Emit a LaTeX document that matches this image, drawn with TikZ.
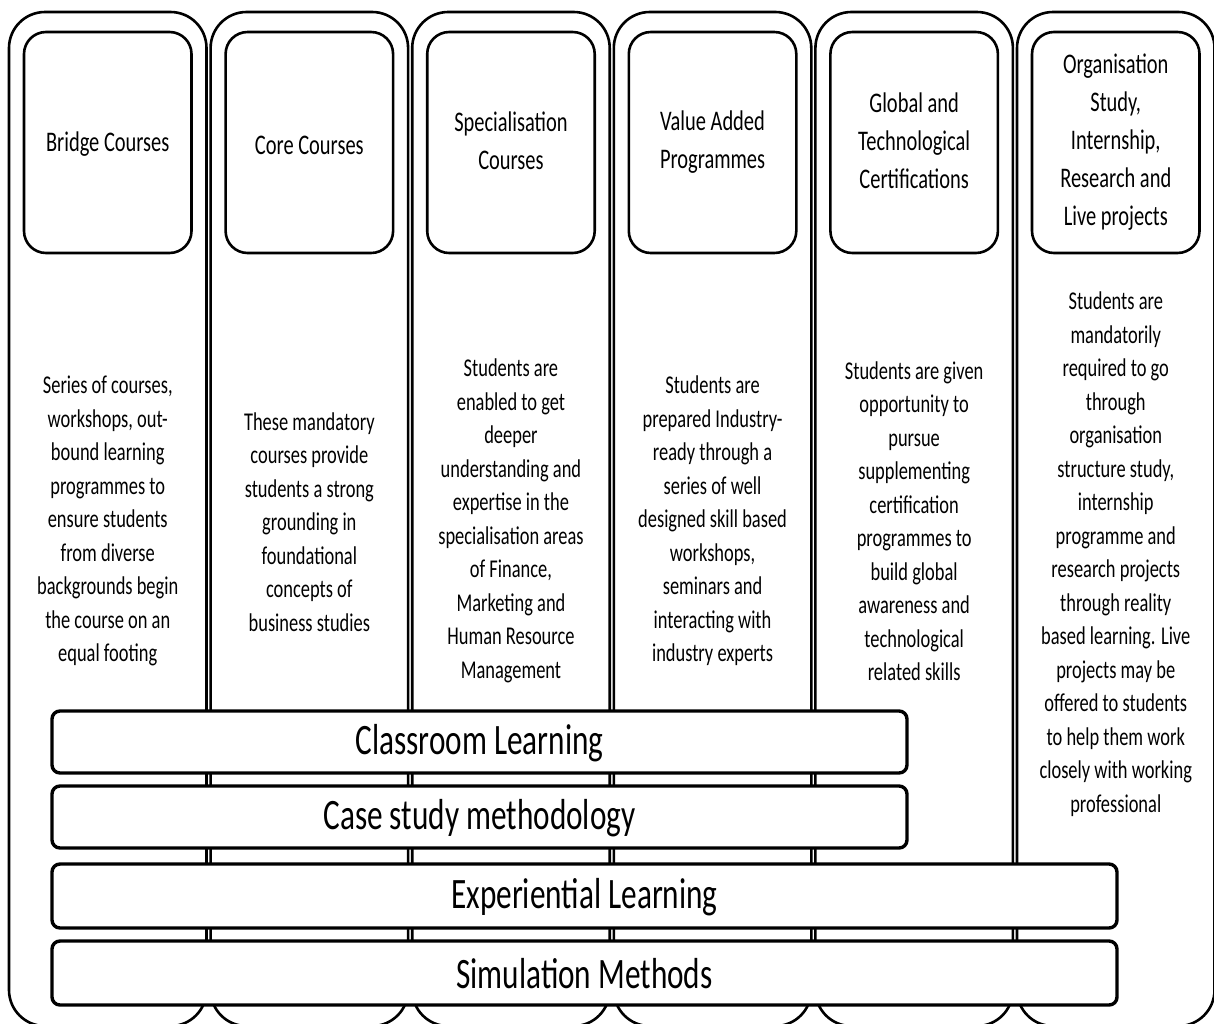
\documentclass[tikz,border=0pt]{standalone}
\usepackage{fontspec}
\setmainfont{Carlito}[FakeStretch=0.72]
\begin{document}
\begin{tikzpicture}[x=0.5pt,y=-0.5pt,
  colbox/.style={line width=1.3pt, rounded corners=18pt},
  hdrbox/.style={line width=1.3pt, rounded corners=11pt},
  barbox/.style={line width=1.7pt, rounded corners=4pt, fill=white},
  hdrtxt/.style={align=center, font=\fontsize{14.2}{19}\selectfont, inner sep=0pt},
  desctxt/.style={align=center, font=\fontsize{12.8}{16.75}\selectfont, inner sep=0pt},
  bartxt/.style={font=\fontsize{21.7}{25}\selectfont, inner sep=0pt}]
\useasboundingbox (0,0) rectangle (1214,1023);
\fill[white] (0,0) rectangle (1214,1023);
\foreach \i in {0,...,5} {
  \pgfmathsetmacro\xl{9+201.6*\i}
  \draw[colbox] (\xl,12) rectangle ++(197.5,1014);
  \draw[hdrbox] (\xl+15,32) rectangle ++(167.5,221);
}
% headers
\node[hdrtxt] (h1) at (107.75,144) {Bridge Courses};
\node[hdrtxt] (h2) at (309.35,145) {Core Courses};
\node[hdrtxt] (h3) at (510.95,141) {Specialisation\\Courses};
\node[hdrtxt] (h4) at (712.55,142) {Value Added\\Programmes};
\node[hdrtxt] (h5) at (914.15,141) {Global and\\Technological\\Certifications};
\node[hdrtxt] (h6) at (1115.75,142) {Organisation\\Study,\\Internship,\\Research and\\Live projects};
% descriptions
\node[desctxt] (d1) at (107.75,521) {Series of courses,\\workshops, out-\\bound learning\\programmes to\\ensure students\\from diverse\\backgrounds begin\\the course on an\\equal footing};
\node[desctxt] (d2) at (309.35,522) {These mandatory\\courses provide\\students a strong\\grounding in\\foundational\\concepts of\\business studies};
\node[desctxt] (d3) at (510.95,521) {Students are\\enabled to get\\deeper\\understanding and\\expertise in the\\specialisation areas\\of Finance,\\Marketing and\\Human Resource\\Management};
\node[desctxt] (d4) at (712.55,521) {Students are\\prepared Industry-\\ready through a\\series of well\\designed skill based\\workshops,\\seminars and\\interacting with\\industry experts};
\node[desctxt] (d5) at (914.15,521) {Students are given\\opportunity to\\pursue\\supplementing\\certification\\programmes to\\build global\\awareness and\\technological\\related skills};
\node[desctxt] (d6) at (1115.75,554) {Students are\\mandatorily\\required to go\\through\\organisation\\structure study,\\internship\\programme and\\research projects\\through reality\\based learning. Live\\projects may be\\offered to students\\to help them work\\closely with working\\professional};
% bars
\draw[barbox] (52,711) rectangle (907,773);
\node[bartxt] (b1) at (479.5,743) {Classroom Learning};
\draw[barbox] (52,786) rectangle (907,848);
\node[bartxt] (b2) at (479.5,818) {Case study methodology};
\draw[barbox] (52,864) rectangle (1117,928);
\node[bartxt] (b3) at (584.5,897) {Experiential Learning};
\draw[barbox] (52,941) rectangle (1117,1005);
\node[bartxt] (b4) at (584.5,974) {Simulation Methods};
\end{tikzpicture}
\end{document}
